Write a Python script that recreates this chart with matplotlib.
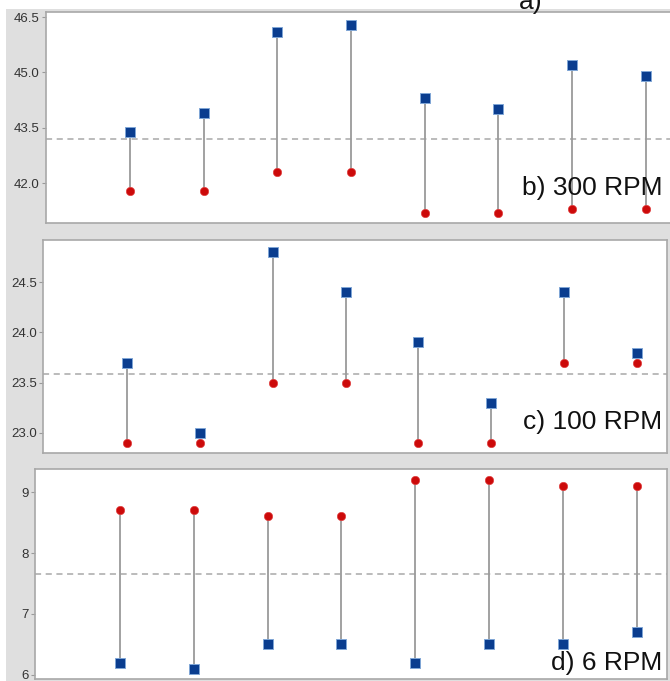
import matplotlib.pyplot as plt
import matplotlib.patches as mpatches

plt.rcParams['font.family'] = ['Liberation Sans', 'DejaVu Sans']

# Datos de cada panel (8 ensayos)
ensayos = [1, 2, 3, 4, 5, 6, 7, 8]

azul_300 = [43.4, 43.9, 46.1, 46.3, 44.3, 44.0, 45.2, 44.9]
rojo_300 = [41.8, 41.8, 42.3, 42.3, 41.2, 41.2, 41.3, 41.3]
media_300 = 43.2

azul_100 = [23.7, 23.0, 24.8, 24.4, 23.9, 23.3, 24.4, 23.8]
rojo_100 = [22.9, 22.9, 23.5, 23.5, 22.9, 22.9, 23.7, 23.7]
media_100 = 23.59

azul_6 = [6.2, 6.1, 6.5, 6.5, 6.2, 6.5, 6.5, 6.7]
rojo_6 = [8.7, 8.7, 8.6, 8.6, 9.2, 9.2, 9.1, 9.1]
media_6 = 7.65

ticks_300 = [42.0, 43.5, 45.0, 46.5]
ticks_100 = [23.0, 23.5, 24.0, 24.5]
ticks_6 = [6, 7, 8, 9]

W, H = 670, 681
fig = plt.figure(figsize=(W / 100, H / 100), dpi=100)
fig.patch.set_facecolor('white')
# fondo gris
fig.patches.append(mpatches.Rectangle((6 / W, 0), 1, 1 - 9 / H, transform=fig.transFigure,
                                      facecolor='#dfdfdf', edgecolor='none', zorder=-10))


def panel(x0, x1, y0, y1, azul, rojo, media, ticks, fmt, ylim, xlim, etiqueta, ety):
    ax = fig.add_axes([x0 / W, 1 - y1 / H, (x1 - x0) / W, (y1 - y0) / H])
    ax.set_facecolor('white')
    for x, a, r in zip(ensayos, azul, rojo):
        ax.plot([x, x], [a, r], color='#9a9a9a', lw=1.3, zorder=2)
    ax.axhline(media, color='#a8a8a8', lw=1.1, ls=(0, (4, 3)), zorder=1)
    ax.plot(ensayos, rojo, 'o', color='#cc0a0a', ms=6, mec='#e04040', mew=0.5, zorder=3)
    ax.plot(ensayos, azul, 's', color='#0a3d8f', ms=7, mec='#7fa6d6', mew=0.7, zorder=3)
    ax.set_xlim(*xlim)
    ax.set_ylim(*ylim)
    ax.set_xticks([])
    ax.set_yticks(ticks)
    ax.set_yticklabels([fmt.format(t) for t in ticks])
    ax.tick_params(axis='y', length=3, width=0.8, color='#999999', labelsize=9.5,
                   labelcolor='#333333', pad=1.5)
    for s in ax.spines.values():
        s.set_color('#a8a8a8')
        s.set_linewidth(1.2)
    fig.text(662 / W, 1 - ety / H, etiqueta, fontsize=19, ha='right', va='center',
             color='#111111')
    return ax


panel(46, 682, 12, 223, azul_300, rojo_300, media_300, ticks_300, '{:.1f}',
      (40.92, 46.64), (-0.14, 8.49), 'b) 300 RPM', 188)
panel(43, 667, 240, 453, azul_100, rojo_100, media_100, ticks_100, '{:.1f}',
      (22.80, 24.92), (-0.15, 8.41), 'c) 100 RPM', 422)
panel(35, 667, 469, 679, azul_6, rojo_6, media_6, ticks_6, '{:.0f}',
      (5.93, 9.38), (-0.15, 8.41), 'd) 6 RPM', 663)

# rótulo del panel superior, cortado en el borde
fig.text(531 / W, 1 - 9 / H, 'a)', fontsize=19, ha='center', va='baseline', color='#111111')

fig.savefig('out.png', dpi=100)
